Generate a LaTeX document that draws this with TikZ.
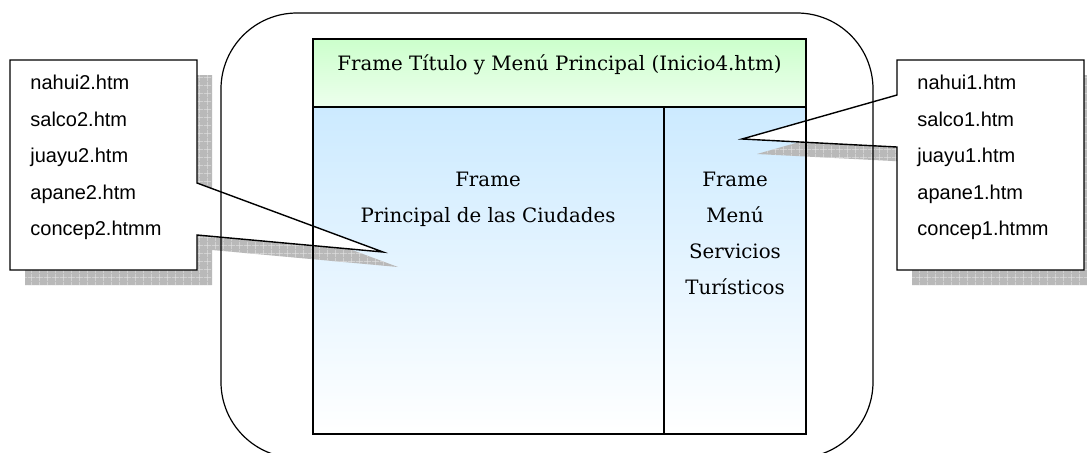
\documentclass[tikz,border=0pt]{standalone}
\usepackage{fontspec}
\setmainfont{DejaVu Serif}
\newfontfamily\listfont{Liberation Sans}
\usetikzlibrary{patterns.meta}
\definecolor{titlegreen}{RGB}{204,255,204}
\definecolor{frameblue}{RGB}{204,234,255}
\definecolor{shadowgray}{RGB}{185,185,185}
\tikzset{
  pane/.style={draw, line width=0.75pt},
  outerbox/.style={draw, line width=0.6pt, rounded corners=38pt},
  framelabel/.style={font=\fontsize{9.9}{18}\selectfont, align=center, inner sep=0pt},
  listlabel/.style={font=\listfont\fontsize{10}{18.25}\selectfont, align=left, inner sep=0pt, anchor=north west},
  balloon/.style={draw, fill=white, line width=0.7pt},
  balloonshadow/.style={fill=shadowgray, postaction={pattern={Hatch[distance=4pt, angle=0, line width=0.35pt]}, pattern color=white!75!gray}}
}

\begin{document}
\begin{tikzpicture}[x=0.5pt, y=-0.5pt]
    \clip (0,0) rectangle (1087,452);
    % frames
    \shade[top color=titlegreen, bottom color=titlegreen!35!white] (313,39) rectangle (806,107);
    \shade[top color=frameblue, bottom color=white] (313,107) rectangle (664,434);
    \shade[top color=frameblue, bottom color=white] (664,107) rectangle (806,434);
    % callout shadows
    \path[balloonshadow, shift={(15,15)}] (10,60) -- (197,60) -- (197,183) -- (383,252) -- (197,235) -- (197,270) -- (10,270) -- cycle;
    \path[balloonshadow, shift={(15,15)}] (897,60) -- (1084,60) -- (1084,270) -- (897,270) -- (897,147) -- (742,139) -- (897,95) -- cycle;
    % callouts
    \path[balloon] (10,60) -- (197,60) -- (197,183) -- (383,252) -- (197,235) -- (197,270) -- (10,270) -- cycle;
    \path[balloon] (897,60) -- (1084,60) -- (1084,270) -- (897,270) -- (897,147) -- (742,139) -- (897,95) -- cycle;
    % outlines
    \path[outerbox] (221,13) rectangle (873,458);
    \draw[pane] (313,39) rectangle (806,434);
    \draw[pane] (313,107) -- (806,107);
    \draw[pane] (664,107) -- (664,434);

    \node[framelabel, anchor=base] (titulo) at (559.5,70) {Frame Título y Menú Principal (Inicio4.htm)};
    \node[framelabel, anchor=north] (ciudades) at (488,172) {Frame\\Principal de las Ciudades};
    \node[framelabel, anchor=north] (menu) at (735,172) {Frame\\Menú\\Servicios\\Turísticos};
    \node[listlabel] (paginas2) at (30,75) {nahui2.htm\\salco2.htm\\juayu2.htm\\apane2.htm\\concep2.htmm};
    \node[listlabel] (paginas1) at (917,75) {nahui1.htm\\salco1.htm\\juayu1.htm\\apane1.htm\\concep1.htmm};
\end{tikzpicture}
\end{document}
